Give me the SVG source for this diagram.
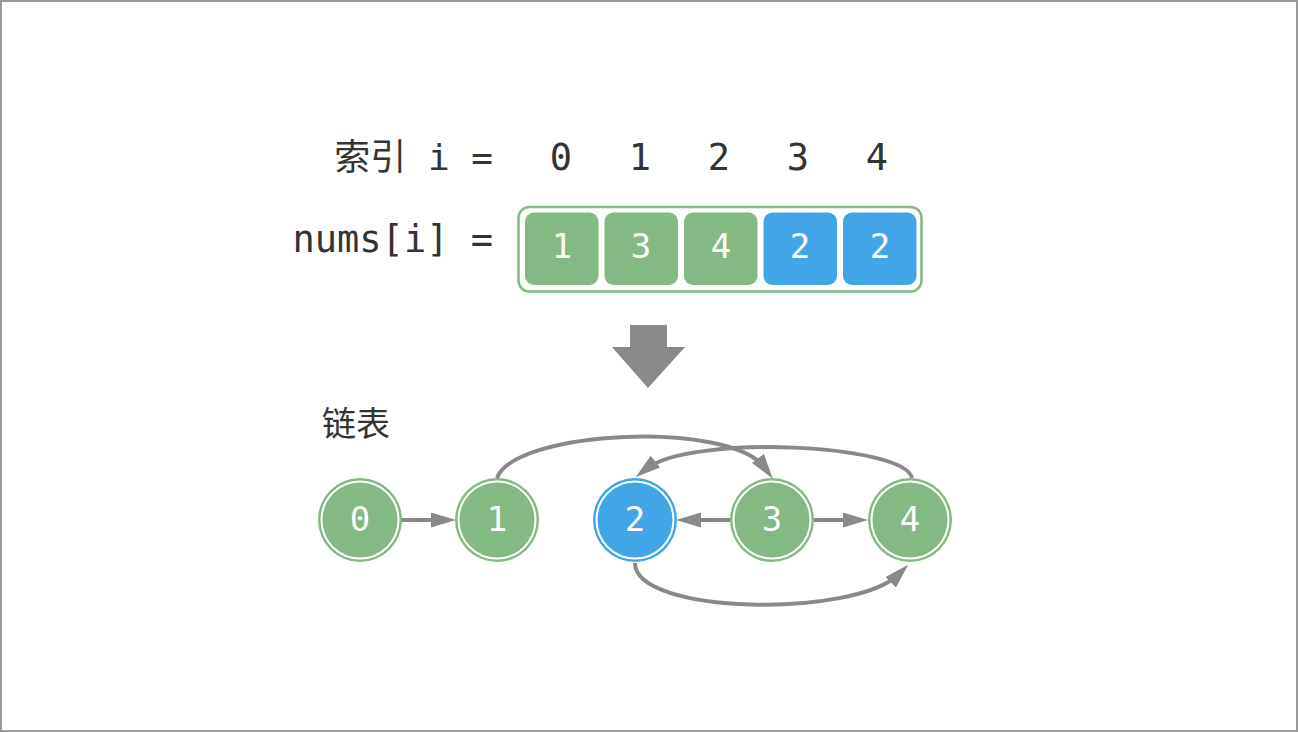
<svg xmlns="http://www.w3.org/2000/svg" width="1298" height="732" viewBox="0 0 1298 732">
<style>
.t{font-family:"DejaVu Sans Mono","Noto Sans CJK SC",monospace;fill:#333;font-size:37px}
.w{font-family:"DejaVu Sans Mono",monospace;fill:#fff;font-size:34px;text-anchor:middle}
.c{font-family:"Noto Sans CJK SC",sans-serif;fill:#333;font-size:34px}
.g{fill:#83b982}
.b{fill:#42a5e8}
.ln{fill:none;stroke:#898989;stroke-width:4}
</style>
<defs>
<marker id="ah" markerUnits="userSpaceOnUse" markerWidth="26" markerHeight="16" refX="12" refY="7.5" orient="auto">
<path d="M0,0 L25,7.5 L0,15 z" fill="#898989"/>
</marker>
</defs>
<rect x="1" y="1" width="1296" height="730" fill="#fff" stroke="#999" stroke-width="2"/>
<g id="index-label">
<text class="t" x="493" y="170" text-anchor="end" xml:space="preserve" style="font-size:36px">索引 i =</text>
</g>
<g id="index-digits" class="t" text-anchor="middle">
<text x="561" y="170">0</text>
<text x="640" y="170">1</text>
<text x="719" y="170">2</text>
<text x="798" y="170">3</text>
<text x="877" y="170">4</text>
</g>
<g id="nums-label">
<text class="t" x="493" y="252" text-anchor="end">nums[i] =</text>
</g>
<g id="array">
<rect x="518.5" y="207" width="403" height="84.5" rx="11" fill="none" stroke="#83b982" stroke-width="2.5"/>
<rect class="g" x="525" y="212.5" width="73.5" height="72.5" rx="9"/>
<rect class="g" x="604.5" y="212.5" width="73.5" height="72.5" rx="9"/>
<rect class="g" x="684" y="212.5" width="73.5" height="72.5" rx="9"/>
<rect class="b" x="763.5" y="212.5" width="73.5" height="72.5" rx="9"/>
<rect class="b" x="843" y="212.5" width="73.5" height="72.5" rx="9"/>
<text class="w" x="562" y="258">1</text>
<text class="w" x="641" y="258">3</text>
<text class="w" x="721" y="258">4</text>
<text class="w" x="800" y="258">2</text>
<text class="w" x="880" y="258">2</text>
</g>
<g id="down-arrow">
<path d="M630,325 H667 V347 H685 L648,388 L612,347 H630 z" fill="#898989"/>
</g>
<g id="list-label">
<text class="c" x="322" y="436">链表</text>
</g>
<g id="connectors">
<line class="ln" x1="402" y1="520" x2="443" y2="520" marker-end="url(#ah)"/>
<line class="ln" x1="731" y1="520" x2="689" y2="520" marker-end="url(#ah)"/>
<line class="ln" x1="812" y1="520" x2="855" y2="520" marker-end="url(#ah)"/>
<path class="ln" d="M497,478 C515,430 730,420 765,468" marker-end="url(#ah)"/>
<path class="ln" d="M912,478 C905,444 690,434 646,469" marker-end="url(#ah)"/>
<path class="ln" d="M635,563 C635,615 855,618 899,574" marker-end="url(#ah)"/>
</g>
<g id="node-0">
<circle cx="360" cy="520" r="42" fill="#83b982"/>
<circle cx="360" cy="520" r="38.5" fill="#83b982" stroke="#fff" stroke-width="2"/>
<text class="w" x="360" y="531">0</text>
</g>
<g id="node-1">
<circle cx="497" cy="520" r="42" fill="#83b982"/>
<circle cx="497" cy="520" r="38.5" fill="#83b982" stroke="#fff" stroke-width="2"/>
<text class="w" x="497" y="531">1</text>
</g>
<g id="node-2">
<circle cx="635" cy="520" r="42" fill="#42a5e8"/>
<circle cx="635" cy="520" r="38.5" fill="#42a5e8" stroke="#fff" stroke-width="2"/>
<text class="w" x="635" y="531">2</text>
</g>
<g id="node-3">
<circle cx="772" cy="520" r="42" fill="#83b982"/>
<circle cx="772" cy="520" r="38.5" fill="#83b982" stroke="#fff" stroke-width="2"/>
<text class="w" x="772" y="531">3</text>
</g>
<g id="node-4">
<circle cx="910" cy="520" r="42" fill="#83b982"/>
<circle cx="910" cy="520" r="38.5" fill="#83b982" stroke="#fff" stroke-width="2"/>
<text class="w" x="910" y="531">4</text>
</g>
</svg>
